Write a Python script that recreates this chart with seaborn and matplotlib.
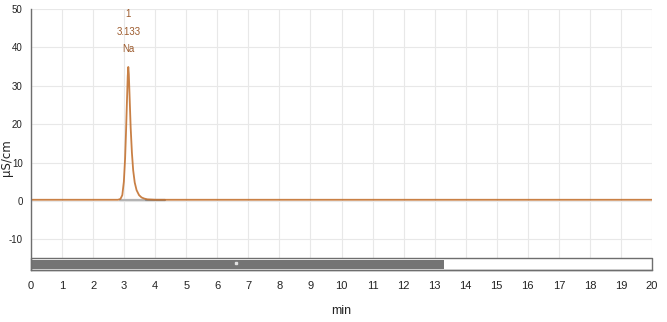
import matplotlib
matplotlib.use("Agg")
import matplotlib.pyplot as plt
import pandas as pd
import seaborn as sns
from matplotlib.ticker import MultipleLocator

# chromatogram trace (min, uS/cm)
times = [0.0, 2.80, 2.88, 2.94, 2.99, 3.03, 3.06, 3.09, 3.115, 3.133, 3.15, 3.18,
         3.21, 3.25, 3.29, 3.34, 3.40, 3.48, 3.56, 3.65, 3.75, 4.0, 20.0]
signal = [0.3, 0.3, 0.5, 1.5, 5.0, 11.0, 18.0, 26.0, 32.5, 34.9, 33.0, 26.0,
          19.0, 12.5, 8.0, 4.8, 2.8, 1.5, 0.9, 0.6, 0.4, 0.3, 0.3]

# integration baselines
base1_t = [2.88, 3.70]
base1_y = [0.25, 0.25]
base2_t = [3.70, 4.30]
base2_y = [0.25, 0.25]

peak_no = "1"
peak_rt = 3.133
peak_name = "Na"

run_done = 13.3
run_end = 20.0

df = pd.DataFrame({"min": times, "uS": signal})

sns.set_style("white")
plt.rcParams["axes.unicode_minus"] = False
narrow = ["Liberation Sans", "DejaVu Sans"]

fig = plt.figure(figsize=(6.67, 3.22), dpi=100)
ax = fig.add_axes([0.0465, 0.1615, 0.931, 0.8105])

ax.grid(True, color="#e8e8e8", linewidth=0.8)
ax.set_axisbelow(True)

ax.plot(base1_t, base1_y, color="#b4b4b4", linewidth=1.6, zorder=2)
ax.plot(base2_t, base2_y, color="#8c8c8c", linewidth=1.6, zorder=2)
sns.lineplot(data=df, x="min", y="uS", ax=ax, color="#c37231", linewidth=1.3,
             alpha=0.9, zorder=3)

# peak label
for label, yy in [(peak_no, 48.6), (f"{peak_rt:.3f}", 44.0), (peak_name, 39.7)]:
    ax.text(peak_rt, yy, label, ha="center", va="center",
            fontsize=7, color="#9c5a2c", family=narrow)

# run progress bar
ax.fill_between([0, run_end], -18.0, -14.8, facecolor="white",
                edgecolor="#6e6e6e", linewidth=1.0, zorder=4, clip_on=False)
ax.fill_between([0, run_done], -17.8, -15.3, facecolor="#747474",
                edgecolor="none", zorder=5)
ax.plot([6.6], [-16.2], marker="s", markersize=2, color="#e0e0e0", zorder=6)

ax.set_xlim(0, 20)
ax.set_ylim(-18, 50)
ax.xaxis.set_major_locator(MultipleLocator(1))
ax.xaxis.set_minor_locator(MultipleLocator(0.2))
ax.yaxis.set_major_locator(MultipleLocator(10))
ax.yaxis.set_minor_locator(MultipleLocator(2))

for s in ["top", "right"]:
    ax.spines[s].set_visible(False)
for s in ["left", "bottom"]:
    ax.spines[s].set_color("#6e6e6e")
    ax.spines[s].set_linewidth(1.0)
    ax.spines[s].set_zorder(7)

ax.tick_params(axis="both", which="major", direction="out", length=4,
               width=0.8, color="#6e6e6e", labelsize=8, pad=2, labelcolor="#222222")
ax.tick_params(axis="both", which="minor", direction="out", length=2,
               width=0.6, color="#6e6e6e")
ax.xaxis.set_tick_params(which="major", pad=4)
ax.yaxis.set_tick_params(which="major", labelsize=7)
for lab in ax.get_xticklabels() + ax.get_yticklabels():
    lab.set_family(narrow)

ax.set_xlabel("min", fontsize=9, family=narrow, labelpad=10, color="#222222")
ax.set_ylabel("µS/cm", fontsize=8.5, color="#222222")
ax.yaxis.set_label_coords(-0.029, 0.43)

fig.savefig("out.png", dpi=100)
